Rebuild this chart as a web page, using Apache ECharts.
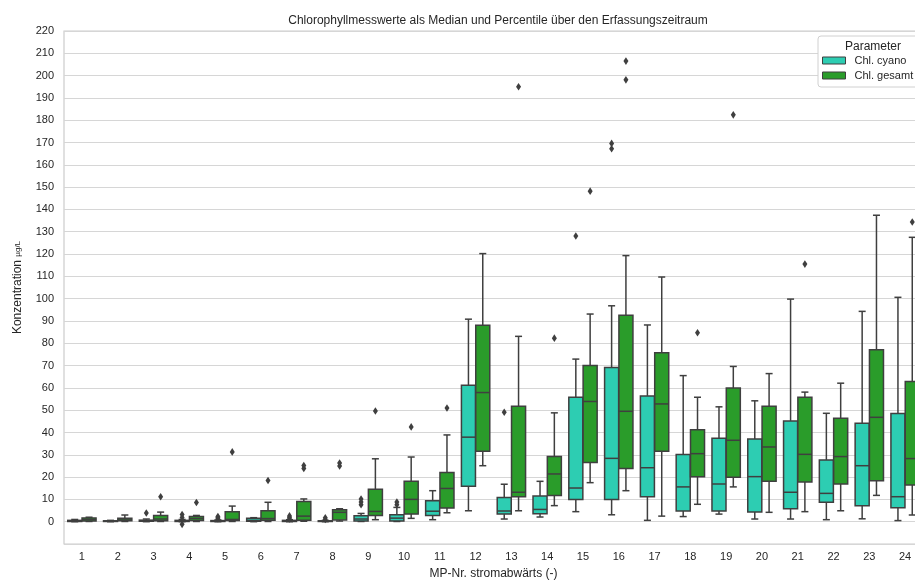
<!DOCTYPE html>
<html>
<head>
<meta charset="utf-8">
<script src="https://cdn.jsdelivr.net/npm/echarts@6/dist/echarts.min.js"></script>
<style>
html,body{margin:0;padding:0;background:#fff;overflow:hidden;}
#chart{width:915px;height:583px;}
</style>
</head>
<body>
<div id="chart"></div>
<script>
// ---- data ----
const categories = ['1','2','3','4','5','6','7','8','9','10','11','12','13','14','15','16','17','18','19','20','21','22','23','24'];
const seriesNames = ['Chl. cyano', 'Chl. gesamt'];
// [min, Q1, median, Q3, max]
const cyanoBoxes = [
  [0, 0.1, 0.3, 0.6, 1.0],
  [0, 0.1, 0.2, 0.4, 0.6],
  [0, 0.2, 0.4, 0.7, 1.2],
  [0, 0.1, 0.3, 0.6, 1.0],
  [0, 0.1, 0.3, 0.5, 0.8],
  [0, 0.2, 0.6, 1.5, 1.8],
  [0, 0.1, 0.3, 0.6, 0.9],
  [0, 0.1, 0.2, 0.4, 0.6],
  [0.1, 0.3, 1.2, 2.7, 3.7],
  [0.1, 0.3, 1.6, 3.1, 6.4],
  [0.9, 2.8, 4.7, 9.4, 13.9],
  [4.9, 15.9, 37.9, 61.2, 90.8],
  [1.2, 3.4, 4.8, 10.9, 16.8],
  [2.1, 3.6, 5.5, 11.5, 18.1],
  [4.5, 9.9, 15.1, 55.8, 72.9],
  [3.1, 9.9, 28.4, 69.1, 96.8],
  [0.6, 11.2, 24.2, 56.4, 88.2],
  [2.3, 4.8, 15.6, 30.1, 65.5],
  [3.4, 4.8, 16.9, 37.4, 51.5],
  [1.2, 4.3, 20.2, 37.1, 54.2],
  [1.2, 5.8, 13.2, 45.2, 99.8],
  [0.9, 8.7, 12.7, 27.7, 48.6],
  [1.3, 7.2, 25.1, 44.1, 94.3],
  [0.5, 6.3, 11.2, 48.5, 100.6]
];
const gesamtBoxes = [
  [0.1, 0.3, 0.9, 1.7, 2.0],
  [0.1, 0.4, 0.8, 1.5, 3.0],
  [0.1, 0.4, 1.2, 2.8, 4.3],
  [0.1, 0.5, 1.4, 2.3, 2.8],
  [0.1, 0.5, 1.0, 4.5, 7.0],
  [0.1, 0.7, 1.4, 4.9, 8.7],
  [0.2, 0.6, 2.5, 9.0, 10.2],
  [0.3, 0.8, 4.2, 5.4, 5.8],
  [0.9, 2.8, 4.6, 14.5, 28.2],
  [1.5, 3.4, 10.0, 18.1, 29.0],
  [4.0, 6.1, 14.9, 22.1, 38.9],
  [25.1, 31.6, 57.9, 88.1, 120.2],
  [4.9, 11.2, 13.2, 51.8, 83.1],
  [7.2, 11.8, 21.4, 29.2, 48.8],
  [17.5, 26.5, 53.9, 70.0, 93.1],
  [13.9, 23.8, 49.5, 92.6, 119.3],
  [2.5, 31.6, 52.8, 75.7, 109.7],
  [7.8, 20.2, 30.5, 41.2, 55.8],
  [15.6, 19.9, 36.5, 59.9, 69.6],
  [4.2, 18.1, 33.5, 51.8, 66.4],
  [4.5, 17.8, 30.2, 55.8, 58.1],
  [4.9, 16.9, 29.2, 46.4, 62.1],
  [11.8, 18.4, 46.8, 77.1, 137.4],
  [3.0, 16.5, 28.3, 62.9, 127.5]
];
// outliers: [category label, value]
const cyanoOutliers = [
  ['3', 3.9], ['4', 3.2], ['4', 1.9], ['4', -1.2],
  ['5', 1.3], ['5', 1.9], ['5', 2.3],
  ['7', 1.2], ['7', 1.9], ['7', 2.6],
  ['8', 1.0], ['8', 1.8],
  ['9', 7.6], ['9', 8.8], ['9', 10.2],
  ['10', 7.6], ['10', 8.8],
  ['13', 49.1], ['15', 128.1], ['16', 167.2], ['16', 169.6]
];
const gesamtOutliers = [
  ['3', 11.2], ['4', 8.6], ['5', 31.3], ['6', 18.5],
  ['7', 23.9], ['7', 25.2], ['8', 25.0], ['8', 26.3],
  ['9', 49.6], ['10', 42.5], ['11', 51.0], ['13', 195.0],
  ['14', 82.3], ['15', 148.2], ['16', 198.1], ['16', 206.5],
  ['18', 84.7], ['19', 182.4], ['21', 115.5], ['24', 134.4]
];

// ---- styles ----
const FONT = '"Liberation Sans", Arial, sans-serif';
const TXT = '#262626';
const EDGE = '#3f3f3f';
const COL_CYANO = '#2dcdb2';
const COL_GESAMT = '#2a9c2a';

function boxRender(side) {
  return function (params, api) {
    const i = api.value(0);
    const band = api.size([1, 0])[0];
    const cx = api.coord([i, 0])[0] + side * band * 0.2;
    const w = band * 0.4 * 0.98;
    const y = k => api.coord([i, api.value(k)])[1];
    const yMin = y(1), yQ1 = y(2), yMed = y(3), yQ3 = y(4), yMax = y(5);
    const ls = { stroke: EDGE, lineWidth: 1.5 };
    return {
      type: 'group',
      children: [
        { type: 'line', shape: { x1: cx, y1: yQ1, x2: cx, y2: yMin }, style: ls },
        { type: 'line', shape: { x1: cx, y1: yQ3, x2: cx, y2: yMax }, style: ls },
        { type: 'line', shape: { x1: cx - w / 4, y1: yMin, x2: cx + w / 4, y2: yMin }, style: ls },
        { type: 'line', shape: { x1: cx - w / 4, y1: yMax, x2: cx + w / 4, y2: yMax }, style: ls },
        { type: 'rect', shape: { x: cx - w / 2, y: yQ3, width: w, height: Math.max(yQ1 - yQ3, 0.01) },
          style: { fill: api.visual('color'), stroke: EDGE, lineWidth: 1.5 } },
        { type: 'line', shape: { x1: cx - w / 2, y1: yMed, x2: cx + w / 2, y2: yMed }, style: ls }
      ]
    };
  };
}
function outlierRender(side) {
  return function (params, api) {
    const i = api.value(0);
    const band = api.size([1, 0])[0];
    const p = api.coord([i, api.value(1)]);
    const x = p[0] + side * band * 0.2, yy = p[1];
    return {
      type: 'polygon',
      shape: { points: [[x, yy - 3.8], [x + 2.5, yy], [x, yy + 3.8], [x - 2.5, yy]] },
      style: { fill: EDGE }
    };
  };
}
const toBoxData = arr => arr.map((d, i) => [i].concat(d));
const toOutData = arr => arr.map(d => [categories.indexOf(d[0]), d[1]]);

const chart = echarts.init(document.getElementById('chart'), null, { renderer: 'canvas' });
chart.setOption({
  animation: false,
  backgroundColor: '#ffffff',
  textStyle: { fontFamily: FONT },
  title: [
    { text: 'Chlorophyllmesswerte als Median und Percentile über den Erfassungszeitraum',
      left: 493, top: 10, textAlign: 'center',
      textStyle: { fontSize: 12, fontWeight: 'normal', color: TXT, fontFamily: FONT } },
    { text: 'Parameter', left: 868, top: 36, textAlign: 'center', z: 10,
      textStyle: { fontSize: 12, fontWeight: 'normal', color: TXT, fontFamily: FONT } }
  ],
  legend: {
    data: seriesNames,
    orient: 'vertical',
    left: 818, top: 36,
    padding: [19, 14, 6, 4],
    itemGap: 4,
    itemWidth: 23, itemHeight: 7,
    icon: 'rect',
    itemStyle: { borderColor: EDGE, borderWidth: 1 },
    backgroundColor: '#ffffff',
    borderColor: '#d0d0d0', borderWidth: 1, borderRadius: 3,
    textStyle: { fontSize: 11, color: TXT, fontFamily: FONT, padding: [0, 0, 0, 4] }
  },
  grid: { left: 64, width: 859, top: 31, height: 513, show: true,
          outerBoundsMode: 'none', containLabel: false,
          borderColor: '#cccccc', borderWidth: 1.2, backgroundColor: 'transparent' },
  xAxis: {
    type: 'category', data: categories,
    name: 'MP-Nr. stromabwärts (-)', nameLocation: 'middle', nameGap: 24,
    nameTextStyle: { fontSize: 12, color: TXT, fontFamily: FONT },
    axisLine: { show: false }, axisTick: { show: false },
    axisLabel: { fontSize: 11, color: TXT, margin: 7, fontFamily: FONT },
    splitLine: { show: false }
  },
  yAxis: {
    type: 'value', min: -10, max: 220, interval: 10,
    name: '{a|Konzentration }{b|µg/L}', nameLocation: 'middle', nameGap: 40,
    nameTextStyle: { color: TXT, fontFamily: FONT,
      rich: { a: { fontSize: 12, color: TXT, fontFamily: FONT }, b: { fontSize: 8, color: TXT, fontFamily: FONT } } },
    axisLine: { show: false }, axisTick: { show: false },
    axisLabel: { fontSize: 11, color: TXT, margin: 10, fontFamily: FONT,
      formatter: v => (v < 0 ? '' : String(v)) },
    splitLine: { show: true, lineStyle: { color: '#d6d6d6', width: 1 } }
  },
  series: [
    { name: seriesNames[0], type: 'custom', renderItem: boxRender(-1),
      itemStyle: { color: COL_CYANO, borderColor: EDGE },
      encode: { x: 0, y: [1, 2, 3, 4, 5] }, data: toBoxData(cyanoBoxes), z: 3 },
    { name: seriesNames[1], type: 'custom', renderItem: boxRender(1),
      itemStyle: { color: COL_GESAMT, borderColor: EDGE },
      encode: { x: 0, y: [1, 2, 3, 4, 5] }, data: toBoxData(gesamtBoxes), z: 3 },
    { name: 'cyano_outliers', type: 'custom', renderItem: outlierRender(-1),
      encode: { x: 0, y: 1 }, data: toOutData(cyanoOutliers), z: 4 },
    { name: 'gesamt_outliers', type: 'custom', renderItem: outlierRender(1),
      encode: { x: 0, y: 1 }, data: toOutData(gesamtOutliers), z: 4 }
  ]
});
</script>
</body>
</html>
